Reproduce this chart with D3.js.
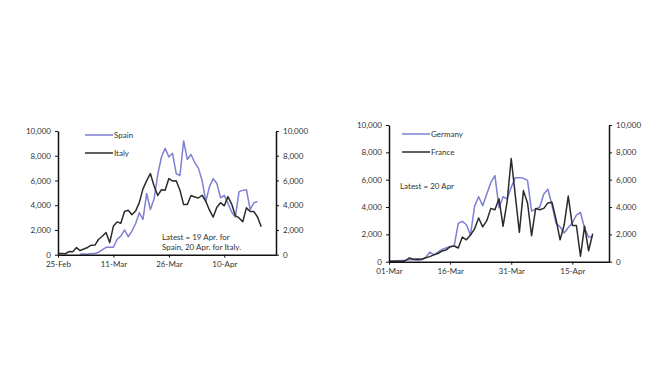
<!DOCTYPE html>
<html>
<head>
<meta charset="utf-8">
<script src="https://cdn.jsdelivr.net/npm/d3@7"></script>
<style>
  body { margin: 0; background: #fff; }
  svg { display: block; font-family: Lato, "Open Sans", sans-serif; }
  .axis path, .axis line { stroke: #111; }
  .axis text { fill: #333; font-size: 8px; font-family: Lato, sans-serif; }
  .note { fill: #333; font-size: 8px; }
</style>
</head>
<body>
<svg id="chart" width="670" height="377"></svg>
<script>
// Daily new cases
var spainItalyStart = "2020-02-25";
var spain = [null, null, null, null, null, null, 50, 60, 40, 100, 100, 200, 400, 600, 600, 600,
    1250, 1500, 2000, 1450, 1900, 2500, 3400, 2850, 4950, 3650, 4500, 6500, 7900, 8600, 7900,
    8200, 6550, 6400, 9200, 7700, 8100, 7450, 7000, 6000, 4300, 5500, 6150, 5750, 4600, 4800,
    4150, 3450, 3050, 5100, 5200, 5250, 3650, 4200, 4300];
var italy = [93, 93, 78, 250, 238, 573, 335, 466, 587, 769, 778, 1247, 1492, 1797, 977, 2313,
    2651, 2547, 3497, 3590, 3233, 3526, 4207, 5322, 5986, 6557, 5560, 4789, 5249, 5210, 6153,
    5959, 5974, 5217, 4050, 4053, 4782, 4668, 4585, 4805, 4316, 3599, 3039, 3836, 4204, 3951,
    4694, 4092, 3153, 2972, 2667, 3786, 3493, 3491, 3047, 2256];

var germanyFranceStart = "2020-03-01";
var germany = [30, 50, 50, 80, 100, 150, 150, 100, 150, 300, 700, 500, 700, 900, 1000, 1100,
    1150, 2800, 2950, 2700, 1950, 4050, 4750, 4100, 4950, 5800, 6300, 3950, 4750, 4600, 5450,
    6150, 6150, 6100, 5950, 3700, 3850, 4000, 4950, 5300, 4150, 2800, 2550, 2100, 2500, 2850,
    3400, 3600, 2450, 1800, 1800];
var france = [40, 30, 60, 20, 70, 280, 180, 200, 180, 290, 370, 500, 600, 780, 850, 1100,
    1150, 1000, 1800, 1600, 1950, 2400, 3200, 2550, 3000, 3900, 3800, 4600, 2600, 4400, 7550,
    4850, 2150, 5200, 4300, 1900, 3900, 3800, 3900, 4300, 4350, 3100, 1600, 2700, 4800, 2650,
    2650, 400, 2600, 800, 2050];

var leftTicks = ["2020-02-25", "2020-03-11", "2020-03-26", "2020-04-10"];
var rightTicks = ["2020-03-01", "2020-03-16", "2020-03-31", "2020-04-15"];
var yTicks = [0, 2000, 4000, 6000, 8000, 10000];

var purple = "#7f7fd3", dark = "#2b2b2b";
var parse = d3.timeParse("%Y-%m-%d");
var svg = d3.select("#chart");

function toSeries(start, values) {
    var s = parse(start);
    return values.map(function(v, i) {
        return { date: d3.timeDay.offset(s, i), value: v };
    });
}

function drawPanel(opt) {
    var x = d3.scaleTime()
        .domain([parse(opt.start), parse(opt.end)])
        .range([opt.left, opt.right]);
    var y = d3.scaleLinear()
        .domain([0, 10000])
        .range([opt.bottom, opt.top]);

    var g = svg.append("g");

    var line = d3.line()
        .defined(function(d) { return d.value !== null; })
        .x(function(d) { return x(d.date); })
        .y(function(d) { return y(d.value); });

    opt.series.forEach(function(s) {
        g.append("path")
            .datum(toSeries(opt.dataStart, s.values))
            .attr("fill", "none")
            .attr("stroke", s.color)
            .attr("stroke-width", 1.5)
            .attr("stroke-linejoin", "round")
            .attr("d", line);
    });

    var fmt = d3.format(",");
    g.append("g")
        .attr("class", "axis")
        .attr("transform", "translate(" + opt.left + ",0)")
        .call(d3.axisLeft(y).tickValues(yTicks).tickFormat(fmt).tickSize(3).tickSizeOuter(0).tickPadding(4))
        .call(function(a) { a.select(".domain").attr("stroke-width", 1.5); });

    g.append("g")
        .attr("class", "axis")
        .attr("transform", "translate(" + opt.right + ",0)")
        .call(d3.axisRight(y).tickValues(yTicks).tickFormat(fmt).tickSize(3).tickSizeOuter(0).tickPadding(4))
        .call(function(a) { a.select(".domain").attr("stroke-width", 1.5); });

    g.append("g")
        .attr("class", "axis")
        .attr("transform", "translate(0," + opt.bottom + ")")
        .call(d3.axisBottom(x).tickValues(opt.ticks.map(parse))
            .tickFormat(d3.timeFormat("%d-%b")).tickSize(3).tickSizeOuter(0).tickPadding(4))
        .call(function(a) { a.select(".domain").attr("stroke-width", 1.5); });

    // legend
    opt.series.forEach(function(s, i) {
        var ly = opt.legendY + i * 18;
        g.append("line")
            .attr("x1", opt.legendX).attr("x2", opt.legendX + 28)
            .attr("y1", ly).attr("y2", ly)
            .attr("stroke", s.color).attr("stroke-width", 1.5);
        g.append("text")
            .attr("class", "note")
            .attr("x", opt.legendX + 29).attr("y", ly + 3)
            .text(s.name);
    });

    opt.notes.forEach(function(n) {
        g.append("text")
            .attr("class", "note")
            .attr("x", n.x).attr("y", n.y)
            .text(n.text);
    });
}

drawPanel({
    start: "2020-02-25", end: "2020-04-24",
    dataStart: spainItalyStart,
    left: 58, right: 276, top: 131, bottom: 254.7,
    ticks: leftTicks,
    series: [
        { name: "Spain", values: spain, color: purple },
        { name: "Italy", values: italy, color: dark }
    ],
    legendX: 85, legendY: 135,
    notes: [
        { x: 162, y: 240, text: "Latest = 19 Apr. for" },
        { x: 162, y: 249.5, text: "Spain, 20 Apr. for Italy." }
    ]
});

drawPanel({
    start: "2020-03-01", end: "2020-04-24",
    dataStart: germanyFranceStart,
    left: 389, right: 609, top: 125, bottom: 261.7,
    ticks: rightTicks,
    series: [
        { name: "Germany", values: germany, color: purple },
        { name: "France", values: france, color: dark }
    ],
    legendX: 402, legendY: 134,
    notes: [
        { x: 400, y: 188.5, text: "Latest = 20 Apr" }
    ]
});
</script>
</body>
</html>
